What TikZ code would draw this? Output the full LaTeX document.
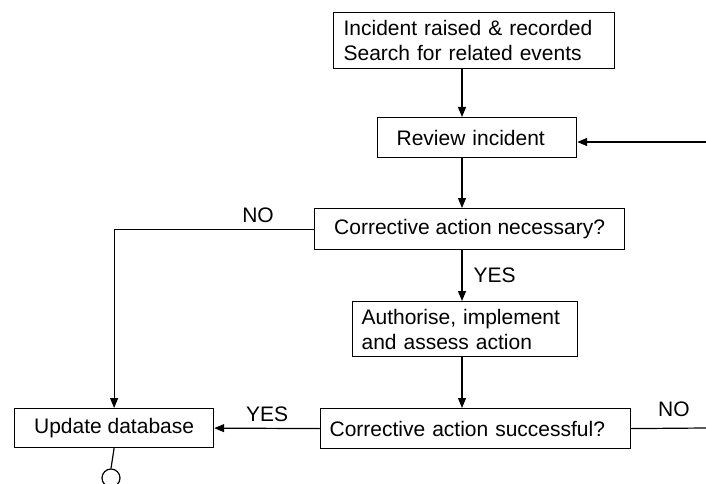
\documentclass[tikz,border=0pt]{standalone}
\usepackage{fontspec}
\setmainfont{Liberation Sans}
\usetikzlibrary{arrows.meta, positioning}

\begin{document}
\begin{tikzpicture}[
  x=1pt, y=-1pt,
  line width=1.2pt,
  box/.style={draw, anchor=north west, inner ysep=0pt,
              font=\fontsize{21}{25}\selectfont, align=left},
  lbl/.style={font=\fontsize{21}{25}\selectfont, inner sep=0pt},
  >={Triangle[length=10pt, width=8pt]}
]
  \useasboundingbox (0,0) rectangle (706,484);

  % boxes
  \node[box, inner xsep=10pt, text width=261pt, minimum height=56pt]
    at (333,12) (raise) {Incident raised \& recorded\\Search for related events};
  \node[box, inner xsep=19pt, text width=161pt, minimum height=40pt]
    at (377,117) (review) {Review incident};
  \node[box, align=center, minimum width=310pt, minimum height=41pt]
    at (314,208) (need) {Corrective action necessary?};
  \node[box, inner xsep=9pt, text width=207pt, minimum height=55pt]
    at (352,301) (act) {Authorise, implement\\and assess action};
  \node[box, inner xsep=9pt, text width=292pt, minimum height=40pt]
    at (320,408) (check) {Corrective action successful?};
  \node[box, align=center, minimum width=199pt, minimum height=39pt]
    at (14,408) (db) {Update database};
  \node[draw, circle, minimum size=18pt, inner sep=0pt]
    at (111,478) (stop) {};

  \coordinate (spine) at (462,0);
  \coordinate (loopin) at (706,142);
  \coordinate (loopout) at (706,428);

  % connectors
  \draw[->] (raise.south -| spine) -- (review.north -| spine);
  \draw[->] (review.south -| spine) -- (need.north -| spine);
  \draw[->] (need.south -| spine)
    -- node[lbl, right=11pt] {YES} (act.north -| spine);
  \draw[->] (act.south -| spine) -- (check.north -| spine);
  \draw[->] (need.west)
    -- node[lbl, above=6pt, pos=0.28] {NO} (need.west -| db.north)
    -- (db.north);
  \draw[->] (check.west) -- node[lbl, above=6pt] {YES} (db.east);
  \draw (check.east) -- node[lbl, above=11pt, pos=0.57] {NO} (loopout);
  \draw[->] (loopin) -- (loopin -| review.east);
  \draw (db.south) -- (stop.north);
\end{tikzpicture}
\end{document}
